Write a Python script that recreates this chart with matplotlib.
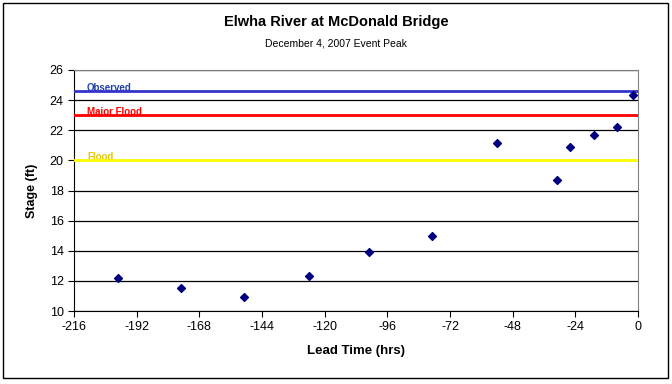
import matplotlib
matplotlib.use('Agg')
import matplotlib.pyplot as plt
from matplotlib.patches import Rectangle

plt.rcParams['font.family'] = ['Liberation Sans', 'DejaVu Sans']
plt.rcParams['axes.unicode_minus'] = False

# forecast peaks
lead_hrs = [-199, -175, -151, -126, -103, -79, -54, -31, -26, -17, -8, -2]
stage_ft = [12.2, 11.5, 10.9, 12.3, 13.9, 15.0, 21.15, 18.7, 20.9, 21.7, 22.2, 24.35]

# reference levels
ref_names = ['Observed', 'Major Flood', 'Flood']
ref_levels = [24.6, 23.0, 20.0]
ref_colors = ['#3333cc', '#ff0000', '#ffff00']
ref_text_colors = ['#1f3fa8', '#ff0000', '#e8c800']

xticks = list(range(-216, 1, 24))
yticks = list(range(10, 27, 2))

fig = plt.figure(figsize=(6.72, 3.84), dpi=100)
ax = fig.add_axes([74/672, 1-311/384, 564/672, 241/384])

for y in yticks:
    ax.axhline(y, color='black', linewidth=0.9, zorder=1)

for name, lev, c, tc in zip(ref_names, ref_levels, ref_colors, ref_text_colors):
    ax.axhline(lev, color=c, linewidth=2, zorder=3)
    # label sits half under the line, as in the original
    ax.text(-211, lev - 0.12, name, color=tc, fontsize=7, fontweight='bold',
            va='bottom', ha='left', zorder=2)

ax.scatter(lead_hrs, stage_ft, marker='D', s=16, color='#000080', zorder=4)

ax.set_xlim(-216, 0)
ax.set_ylim(10, 26)
ax.set_xticks(xticks)
ax.set_yticks(yticks)
ax.tick_params(direction='out', length=4, labelsize=9, width=0.8)
for s in ['top', 'right']:
    ax.spines[s].set_color('#808080')
for s in ['left', 'bottom']:
    ax.spines[s].set_color('black')

ax.set_xlabel('Lead Time (hrs)', fontsize=9.5, fontweight='bold', labelpad=8)
ax.set_ylabel('Stage (ft)', fontsize=9, fontweight='bold', labelpad=8)

fig.text(0.5, 1-22/384, 'Elwha River at McDonald Bridge', ha='center', va='center',
         fontsize=10.5, fontweight='bold')
fig.text(0.5, 1-44/384, 'December 4, 2007 Event Peak', ha='center', va='center', fontsize=7.5)

fig.patches.append(Rectangle((3/672, 6/384), 665/672, 375/384, transform=fig.transFigure,
                             fill=False, edgecolor='black', linewidth=1))

fig.savefig('out.png', dpi=100)
